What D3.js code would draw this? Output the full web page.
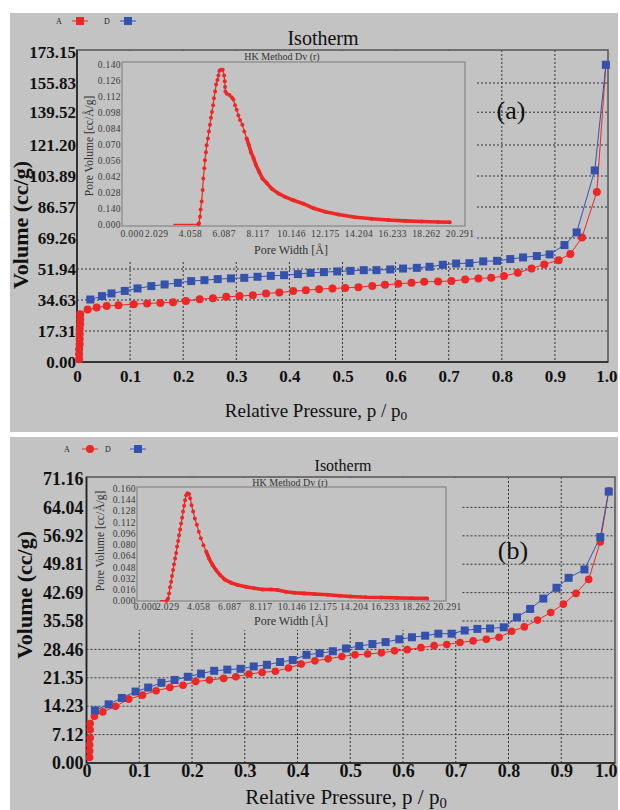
<!DOCTYPE html>
<html>
<head>
<meta charset="utf-8">
<script src="https://cdn.jsdelivr.net/npm/d3@7"></script>
<style>
  body { margin: 0; background: #fff; }
  svg { display: block; }
  text { font-family: "Liberation Serif", "Times New Roman", serif; }
</style>
</head>
<body>
<svg id="chart"></svg>
<script>
// ---- data ----
const pressureTicks = [0, 0.1, 0.2, 0.3, 0.4, 0.5, 0.6, 0.7, 0.8, 0.9, 1.0];
const pressureLabels = ["0", "0.1", "0.2", "0.3", "0.4", "0.5", "0.6", "0.7", "0.8", "0.9", "1.0"];

const aVolumeTicks = [0, 17.31, 34.63, 51.94, 69.26, 86.57, 103.89, 121.20, 139.52, 155.83, 173.15];
const bVolumeTicks = [0, 7.12, 14.23, 21.35, 28.46, 35.58, 42.69, 49.81, 56.92, 64.04, 71.16];

const widthTicks = [0, 2.029, 4.058, 6.087, 8.117, 10.146, 12.175, 14.204, 16.233, 18.262, 20.291];
const aDvTicks = [0, 0.014, 0.028, 0.042, 0.056, 0.070, 0.084, 0.098, 0.112, 0.126, 0.140];
const aDvLabels = ["0.000", "0.140", "0.028", "0.042", "0.056", "0.070", "0.084", "0.098", "0.112", "0.126", "0.140"];
const bDvTicks = [0, 0.016, 0.032, 0.048, 0.064, 0.080, 0.096, 0.112, 0.128, 0.144, 0.160];

// panel (a) adsorption (A, red) and desorption (D, blue)
const aRedP = [0.004, 0.004, 0.004, 0.005, 0.005, 0.005, 0.005, 0.006, 0.006, 0.006,
  0.02, 0.037, 0.056, 0.078, 0.107, 0.132, 0.157, 0.181, 0.205, 0.231, 0.256, 0.281, 0.306, 0.331, 0.356,
  0.381, 0.407, 0.431, 0.456, 0.481, 0.505, 0.53, 0.556, 0.58, 0.605, 0.63, 0.654, 0.68, 0.705, 0.731,
  0.756, 0.78, 0.804, 0.83, 0.856, 0.88, 0.907, 0.929, 0.951, 0.979, 0.996];
const aRedV = [1.5, 4.3, 7.1, 9.9, 12.7, 15.5, 18.3, 21.1, 23.9, 26.7,
  29.3, 30.4, 31.3, 31.7, 32.3, 32.7, 33.0, 33.4, 34.1, 35.1, 35.6, 36.4, 36.8, 37.3, 38.3,
  38.8, 39.6, 40.1, 40.7, 41.1, 41.4, 41.8, 42.5, 43.1, 43.7, 44.2, 44.8, 45.0, 45.2, 46.1,
  46.7, 47.0, 48.0, 49.8, 52.2, 54.5, 56.9, 60.3, 69.6, 95, 166];
const aBlueP = [0.025, 0.047, 0.065, 0.09, 0.114, 0.14, 0.165, 0.19, 0.215, 0.24, 0.265, 0.29, 0.315, 0.34,
  0.365, 0.39, 0.416, 0.44, 0.465, 0.49, 0.515, 0.54, 0.564, 0.59, 0.614, 0.64, 0.664, 0.689, 0.714, 0.739,
  0.765, 0.791, 0.816, 0.84, 0.866, 0.89, 0.918, 0.941, 0.975, 0.996];
const aBlueV = [34.9, 36.8, 38.3, 39.7, 41.1, 42.4, 43.3, 44.2, 45.2, 45.7, 46.3, 46.7, 47.0, 47.6,
  48.1, 48.5, 49.1, 49.8, 50.2, 50.6, 50.9, 51.3, 51.3, 51.7, 52.2, 52.6, 53.2, 54.3, 55.0, 55.2,
  56.2, 56.5, 57.5, 58.4, 59.2, 60.1, 65.3, 72.4, 107, 166];

// panel (a) inset: HK pore size distribution
const aPoreW = [3.05, 4.56, 4.60, 4.66, 4.70, 4.76, 4.82, 4.86, 4.92, 4.96, 5.02, 5.06, 5.14, 5.20, 5.26,
  5.32, 5.38, 5.45, 5.50, 5.57, 5.63, 5.71, 5.77, 5.83, 5.93, 6.03, 6.11, 6.15, 6.17, 6.19,
  6.27, 6.43, 6.57, 6.67, 6.77, 6.87, 6.97, 7.07, 7.21, 7.33, 7.47, 7.61, 7.73, 7.88, 8.02,
  8.22, 8.42, 8.68, 8.98, 9.38, 9.78, 10.28, 10.89, 11.5, 12.2, 13.0, 14.0, 15.0, 16.0, 17.0, 18.0, 19.0, 19.7];
const aPoreDv = [0, 0, 0.001, 0.0067, 0.013, 0.020, 0.030, 0.040, 0.049, 0.056, 0.063, 0.069, 0.075, 0.081, 0.087,
  0.093, 0.098, 0.104, 0.110, 0.116, 0.122, 0.126, 0.130, 0.134, 0.135, 0.135, 0.130, 0.125, 0.120, 0.116,
  0.114, 0.113, 0.111, 0.109, 0.104, 0.100, 0.095, 0.091, 0.087, 0.081, 0.075, 0.069, 0.063, 0.058, 0.052,
  0.046, 0.040, 0.036, 0.031, 0.027, 0.024, 0.021, 0.018, 0.014, 0.011, 0.0085, 0.0062, 0.0048, 0.0038, 0.003, 0.0025, 0.002, 0.0018];

// panel (b)
const bRedP = [0.006, 0.006, 0.006, 0.007, 0.007, 0.007,
  0.015, 0.031, 0.055, 0.08, 0.106, 0.132, 0.158, 0.183, 0.207, 0.233, 0.26, 0.283, 0.308, 0.333, 0.358,
  0.383, 0.407, 0.433, 0.458, 0.484, 0.509, 0.533, 0.559, 0.584, 0.608, 0.634, 0.659, 0.683, 0.708, 0.733,
  0.758, 0.782, 0.806, 0.83, 0.855, 0.88, 0.904, 0.928, 0.952, 0.974, 0.99];
const bRedV = [1.4, 3.0, 4.6, 6.3, 8.3, 9.9,
  11.7, 12.8, 14.2, 16.0, 17.0, 18.1, 18.9, 19.5, 20.4, 20.8, 21.2, 21.6, 22.3, 22.7, 23.0,
  23.8, 24.8, 25.6, 26.1, 26.7, 27.1, 27.3, 27.6, 28.1, 28.4, 28.9, 29.4, 29.7, 30.2, 30.6,
  31.0, 31.5, 33.0, 34.1, 35.8, 37.7, 39.8, 42.5, 46.0, 55.4, 68.2];
const bBlueP = [0.016, 0.042, 0.067, 0.093, 0.117, 0.142, 0.167, 0.192, 0.217, 0.242, 0.267, 0.292, 0.317, 0.342,
  0.367, 0.391, 0.417, 0.442, 0.467, 0.492, 0.517, 0.542, 0.567, 0.593, 0.617, 0.642, 0.667, 0.692, 0.717, 0.741,
  0.765, 0.791, 0.816, 0.841, 0.866, 0.891, 0.914, 0.944, 0.974, 0.99];
const bBlueV = [13.2, 14.7, 16.3, 17.9, 18.9, 20.1, 20.8, 21.6, 22.4, 23.1, 23.4, 23.6, 24.2, 24.6,
  25.3, 25.8, 27.1, 27.5, 28.0, 28.7, 29.3, 29.8, 30.3, 31.0, 31.5, 31.9, 32.4, 32.4, 33.2, 33.6,
  33.7, 34.0, 36.5, 38.6, 41.2, 43.9, 46.4, 48.5, 56.6, 68.0];

const bPoreW = [1.57, 2.0, 2.09, 2.16, 2.22, 2.29, 2.35, 2.42, 2.48, 2.55, 2.62, 2.68, 2.75, 2.81, 2.88,
  2.94, 3.01, 3.07, 3.14, 3.20, 3.27, 3.36, 3.47, 3.53, 3.62, 3.73, 3.84, 3.97, 4.10, 4.23,
  4.40, 4.58, 4.77, 4.99, 5.21, 5.49, 5.80, 6.19, 6.63, 7.17, 7.72, 8.26, 8.80, 9.24, 9.78,
  10.33, 10.98, 11.64, 12.5, 13.3, 14.0, 15.0, 16.0, 17.0, 18.0, 19.0];
const bPoreDv = [0, 0, 0.0033, 0.0104, 0.019, 0.027, 0.035, 0.0437, 0.052, 0.060, 0.068, 0.077, 0.085, 0.093, 0.1015,
  0.110, 0.118, 0.127, 0.135, 0.143, 0.150, 0.153, 0.152, 0.146, 0.136, 0.127, 0.117, 0.108, 0.098, 0.089,
  0.079, 0.070, 0.060, 0.051, 0.044, 0.0365, 0.030, 0.0256, 0.0223, 0.020, 0.0176, 0.016, 0.016, 0.0152, 0.0128,
  0.0114, 0.0104, 0.0095, 0.0085, 0.007, 0.006, 0.005, 0.0045, 0.004, 0.0035, 0.0033];

const bg = "#c3c3c3", red = "#ee2626", blue = "#3452ad";

const svg = d3.select("#chart").attr("width", 620).attr("height", 810);

function drawPanel(p) {
  const g = svg.append("g");
  g.append("rect").attr("x", 10).attr("y", p.top).attr("width", 608).attr("height", p.bottom - p.top).attr("fill", bg);

  const x = d3.scaleLinear().domain([0, 1]).range(p.xRange);
  const y = d3.scaleLinear().domain([0, p.yTicks[p.yTicks.length - 1]]).range(p.yRange);
  const y0 = p.yRange[0];

  // dotted grid
  g.append("g").selectAll("line").data(pressureTicks.slice(1, -1)).join("line")
    .attr("x1", d => x(d)).attr("x2", d => x(d)).attr("y1", p.frameTop).attr("y2", y0)
    .attr("stroke", "#333").attr("stroke-width", 1).attr("stroke-dasharray", "2,2");
  g.append("g").selectAll("line").data(p.yTicks.slice(1, -1)).join("line")
    .attr("x1", p.xRange[0]).attr("x2", p.frameRight).attr("y1", d => y(d)).attr("y2", d => y(d))
    .attr("stroke", "#333").attr("stroke-width", 1).attr("stroke-dasharray", "2,2");

  // inset covers the grid
  const m = p.mask;
  g.append("rect").attr("x", m[0]).attr("y", m[1]).attr("width", m[2] - m[0]).attr("height", m[3] - m[1]).attr("fill", bg);

  // frame
  g.append("rect").attr("x", p.xRange[0]).attr("y", p.frameTop)
    .attr("width", p.frameRight - p.xRange[0]).attr("height", y0 - p.frameTop)
    .attr("fill", "none").attr("stroke", "#5c5c5c").attr("stroke-width", 1.6);
  g.append("line").attr("x1", p.xRange[0]).attr("x2", p.frameRight).attr("y1", y0).attr("y2", y0)
    .attr("stroke", "#222").attr("stroke-width", 1.6);
  g.append("line").attr("x1", p.xRange[0]).attr("x2", p.xRange[0]).attr("y1", p.frameTop).attr("y2", y0)
    .attr("stroke", "#222").attr("stroke-width", 1.6);

  // inset
  const ins = p.inset;
  const ix = d3.scaleLinear().domain([0, 20.291]).range(ins.xRange);
  const iy = d3.scaleLinear().domain([0, ins.yTicks[ins.yTicks.length - 1]]).range(ins.yRange);
  g.append("rect").attr("x", ins.box[0]).attr("y", ins.box[1])
    .attr("width", ins.box[2] - ins.box[0]).attr("height", ins.box[3] - ins.box[1])
    .attr("fill", "none").attr("stroke", "#858585").attr("stroke-width", 1.2);
  const iyAxis = g.append("g").attr("transform", `translate(${ins.box[0]},0)`)
    .call(d3.axisLeft(iy).tickValues(ins.yTicks).tickSize(0).tickPadding(1)
      .tickFormat((d, i) => ins.yLabels ? ins.yLabels[i] : d3.format(".3f")(d)));
  const ixAxis = g.append("g").attr("transform", `translate(0,${ins.box[3]})`)
    .call(d3.axisBottom(ix).tickValues(widthTicks).tickSize(0).tickPadding(ins.xPad).tickFormat(d3.format(".3f")));
  [iyAxis, ixAxis].forEach(a => {
    a.select(".domain").remove();
    a.selectAll("text").attr("font-family", "Liberation Serif, serif").attr("font-size", 9.5)
      .attr("letter-spacing", 0.4).attr("fill", "#3a3a3a");
  });
  // the first width label sits a little right of the corner, as in the original
  ixAxis.selectAll("text").filter(d => d === 0).attr("dx", 9);
  g.append("text").attr("x", ins.titleX).attr("y", ins.titleY).attr("text-anchor", "middle")
    .attr("font-size", 10).attr("fill", "#333").text("HK Method Dv (r)");
  g.append("text").attr("x", 291).attr("y", ins.xLabelY).attr("text-anchor", "middle")
    .attr("font-size", 12).attr("fill", "#333").text("Pore Width [Å]");
  g.append("text").attr("transform", `translate(${ins.yLabelX},${ins.yLabelY}) rotate(-90)`)
    .attr("text-anchor", "middle").attr("font-size", 11.5).attr("fill", "#333").text("Pore Volume [cc/Å/g]");

  const pore = d3.zip(ins.w, ins.dv);
  const iline = d3.line().x(d => ix(d[0])).y(d => iy(d[1]));
  g.append("path").datum(pore).attr("d", iline).attr("fill", "none").attr("stroke", red).attr("stroke-width", 1.2);
  g.append("path").datum(pore.filter(d => d[0] >= ins.thickFrom)).attr("d", iline)
    .attr("fill", "none").attr("stroke", red).attr("stroke-width", 3.6).attr("stroke-linejoin", "round");
  g.append("g").selectAll("circle").data(pore.slice(1)).join("circle")
    .attr("cx", d => ix(d[0])).attr("cy", d => iy(d[1])).attr("r", 2).attr("fill", red);

  // axes
  const yAxis = g.append("g").attr("transform", `translate(${p.xRange[0]},0)`)
    .call(d3.axisLeft(y).tickValues(p.yTicks).tickSize(0).tickPadding(p.yPad).tickFormat(d3.format(".2f")));
  const xAxis = g.append("g").attr("transform", `translate(0,${y0})`)
    .call(d3.axisBottom(x).tickValues(pressureTicks).tickSize(0).tickPadding(p.xPad).tickFormat((d, i) => pressureLabels[i]));
  yAxis.select(".domain").remove();
  xAxis.select(".domain").remove();
  yAxis.selectAll("text").attr("font-family", "Liberation Serif, serif").attr("font-weight", "bold")
    .attr("font-size", p.yFont).attr("fill", "#111");
  xAxis.selectAll("text").attr("font-family", "Liberation Serif, serif").attr("font-weight", "bold")
    .attr("font-size", p.xFont).attr("fill", "#111");
  // last label kept inside the panel
  xAxis.selectAll("text").filter(d => d === 1).attr("text-anchor", "end").attr("dx", 617 - p.xRange[1]);

  // series
  const red2 = d3.zip(p.redP, p.redV), blue2 = d3.zip(p.blueP, p.blueV);
  const line = d3.line().x(d => x(d[0])).y(d => y(d[1]));
  g.append("path").datum(red2).attr("d", line).attr("fill", "none").attr("stroke", red).attr("stroke-width", 1);
  g.append("path").datum(blue2).attr("d", line).attr("fill", "none").attr("stroke", blue).attr("stroke-width", 1);
  g.append("g").selectAll("circle").data(red2).join("circle")
    .attr("cx", d => x(d[0])).attr("cy", d => y(d[1])).attr("r", p.r).attr("fill", red);
  g.append("g").selectAll("rect").data(blue2).join("rect")
    .attr("x", d => x(d[0]) - p.sq / 2).attr("y", d => y(d[1]) - p.sq / 2)
    .attr("width", p.sq).attr("height", p.sq).attr("fill", blue);

  // titles
  g.append("text").attr("x", p.titleX).attr("y", p.titleY).attr("text-anchor", "middle")
    .attr("font-size", p.titleFont).attr("fill", "#111").text("Isotherm");
  g.append("text").attr("x", p.tag[0]).attr("y", p.tag[1]).attr("text-anchor", "middle")
    .attr("font-size", 26).attr("fill", "#111").text(p.tagText);
  const xt = g.append("text").attr("x", p.xTitle[0]).attr("y", p.xTitle[1]).attr("text-anchor", "middle")
    .attr("font-size", p.xTitleFont).attr("fill", "#111");
  xt.append("tspan").text("Relative Pressure, p / p");
  xt.append("tspan").attr("font-size", p.xTitleFont * 0.7).attr("dy", p.xTitleFont * 0.18).text("0");
  g.append("text").attr("transform", `translate(${p.yTitle[0]},${p.yTitle[1]}) rotate(-90)`)
    .attr("text-anchor", "middle").attr("font-size", 22).attr("font-weight", "bold").attr("fill", "#111")
    .text("Volume (cc/g)");

  // legend
  const L = p.legend;
  g.append("text").attr("x", L.a).attr("y", L.y + 3).attr("font-size", 8).attr("fill", "#222").text("A");
  g.append("line").attr("x1", L.red - 8).attr("x2", L.red + 8).attr("y1", L.y).attr("y2", L.y).attr("stroke", red);
  if (L.redSquare) {
    g.append("rect").attr("x", L.red - 4).attr("y", L.y - 4).attr("width", 8).attr("height", 8).attr("fill", red);
  } else {
    g.append("circle").attr("cx", L.red).attr("cy", L.y).attr("r", 4).attr("fill", red);
  }
  g.append("text").attr("x", L.d).attr("y", L.y + 3).attr("font-size", 8).attr("fill", "#222").text("D");
  g.append("line").attr("x1", L.blue - 8).attr("x2", L.blue + 8).attr("y1", L.y).attr("y2", L.y).attr("stroke", blue);
  g.append("rect").attr("x", L.blue - 4).attr("y", L.y - 4).attr("width", 8).attr("height", 8).attr("fill", blue);
}

drawPanel({
  top: 13, bottom: 432, frameTop: 50, frameRight: 608,
  xRange: [77, 608], yRange: [362, 52], yTicks: aVolumeTicks,
  mask: [78, 51, 476, 262],
  yPad: 1, xPad: 8, yFont: 17, xFont: 17,
  redP: aRedP, redV: aRedV, blueP: aBlueP, blueV: aBlueV, r: 4, sq: 8,
  titleX: 323, titleY: 45, titleFont: 20,
  tag: [511, 119], tagText: "(a)",
  xTitle: [316, 417], xTitleFont: 19, yTitle: [28, 225],
  legend: { y: 21, a: 56, red: 80, d: 104, blue: 128, redSquare: true },
  inset: {
    box: [122, 62, 465, 226], xRange: [122.6, 459.6], yRange: [224.3, 64],
    yTicks: aDvTicks, yLabels: aDvLabels, xPad: 4,
    w: aPoreW, dv: aPoreDv, thickFrom: 7.4,
    titleX: 282, titleY: 60, xLabelY: 254, yLabelX: 93, yLabelY: 146
  }
});

drawPanel({
  top: 437, bottom: 810, frameTop: 477, frameRight: 615,
  xRange: [86.5, 614], yRange: [763, 479], yTicks: bVolumeTicks,
  mask: [87, 478, 461, 630],
  yPad: 3, xPad: 1, yFont: 18, xFont: 18,
  redP: bRedP, redV: bRedV, blueP: bBlueP, blueV: bBlueV, r: 3.8, sq: 8,
  titleX: 343, titleY: 471, titleFont: 16,
  tag: [513, 559], tagText: "(b)",
  xTitle: [346, 804], xTitleFont: 21, yTitle: [32, 595],
  legend: { y: 449, a: 64, red: 90, d: 105, blue: 138, redSquare: false },
  inset: {
    box: [137, 487, 446, 601], xRange: [136, 447], yRange: [600.7, 488.3],
    yTicks: bDvTicks, yLabels: null, xPad: 2,
    w: bPoreW, dv: bPoreDv, thickFrom: 4.5,
    titleX: 290, titleY: 486, xLabelY: 625, yLabelX: 104, yLabelY: 541
  }
});
</script>
</body>
</html>
